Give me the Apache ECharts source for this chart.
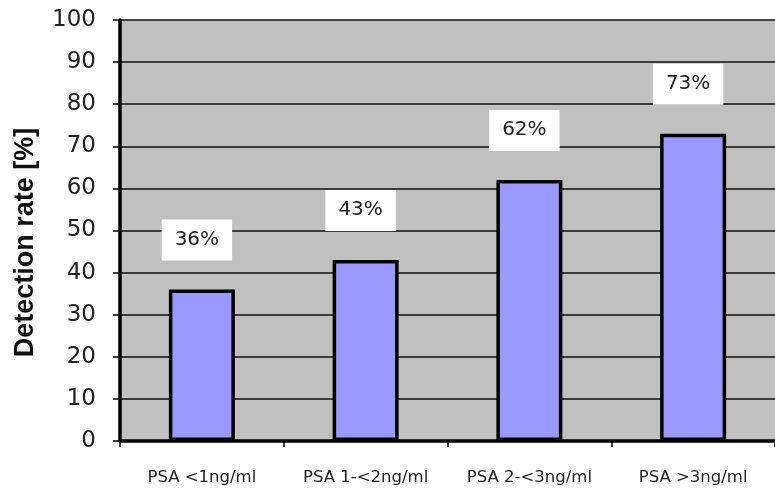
<!DOCTYPE html>
<html>
<head>
<meta charset="utf-8">
<script src="https://cdn.jsdelivr.net/npm/echarts@6/dist/echarts.min.js"></script>
<style>html,body{margin:0;padding:0;background:#fff;}#c{width:775px;height:488px;}</style>
</head>
<body>
<div id="c"></div>
<script>
var categories = ['PSA <1ng/ml', 'PSA 1-<2ng/ml', 'PSA 2-<3ng/ml', 'PSA >3ng/ml'];
var detectionRate = [36, 43, 62, 73];
var yTicks = { min: 0, max: 100, interval: 10 };
var yAxisTitle = 'Detection rate [%]';

var chart = echarts.init(document.getElementById('c'), null, { renderer: 'canvas' });
chart.setOption({
  animation: false,
  grid: { left: 120, top: 20, bottom: 47, right: -5, show: true, backgroundColor: '#c0c0c0', borderWidth: 0 },
  xAxis: {
    type: 'category', data: categories,
    axisLine: { show: true, lineStyle: { color: '#000', width: 3.5 } },
    axisTick: { show: true, length: 6, lineStyle: { color: '#000', width: 1.5 } },
    axisLabel: { fontFamily: 'DejaVu Sans, sans-serif', fontSize: 16.5, color: '#222', margin: 28 }
  },
  yAxis: {
    type: 'value', min: yTicks.min, max: yTicks.max, interval: yTicks.interval,
    name: yAxisTitle, nameLocation: 'middle', nameGap: 81,
    nameTextStyle: { fontFamily: 'Liberation Sans, Arial, sans-serif', fontSize: 27, fontWeight: 'bold', color: '#111', padding: [0, 24, 0, 0] },
    axisLine: { show: true, lineStyle: { color: '#000', width: 3.5 } },
    axisTick: { show: true, length: 7, lineStyle: { color: '#000', width: 1.5 } },
    axisLabel: { fontFamily: 'DejaVu Sans, sans-serif', fontSize: 23, color: '#222', margin: 24 },
    splitLine: { show: true, lineStyle: { color: '#111', width: 1.5 } }
  },
  series: [{
    type: 'bar', data: detectionRate, barWidth: 66,
    itemStyle: { color: '#9999ff', borderColor: '#000', borderWidth: 3.5 },
    label: {
      show: true, position: 'top', distance: 29, offset: [-5, 0], formatter: '{c}%',
      backgroundColor: '#fff', padding: [10, 13, 11, 13], lineHeight: 20,
      fontFamily: 'DejaVu Sans, sans-serif', fontSize: 20, color: '#222'
    }
  }]
});
</script>
</body>
</html>
